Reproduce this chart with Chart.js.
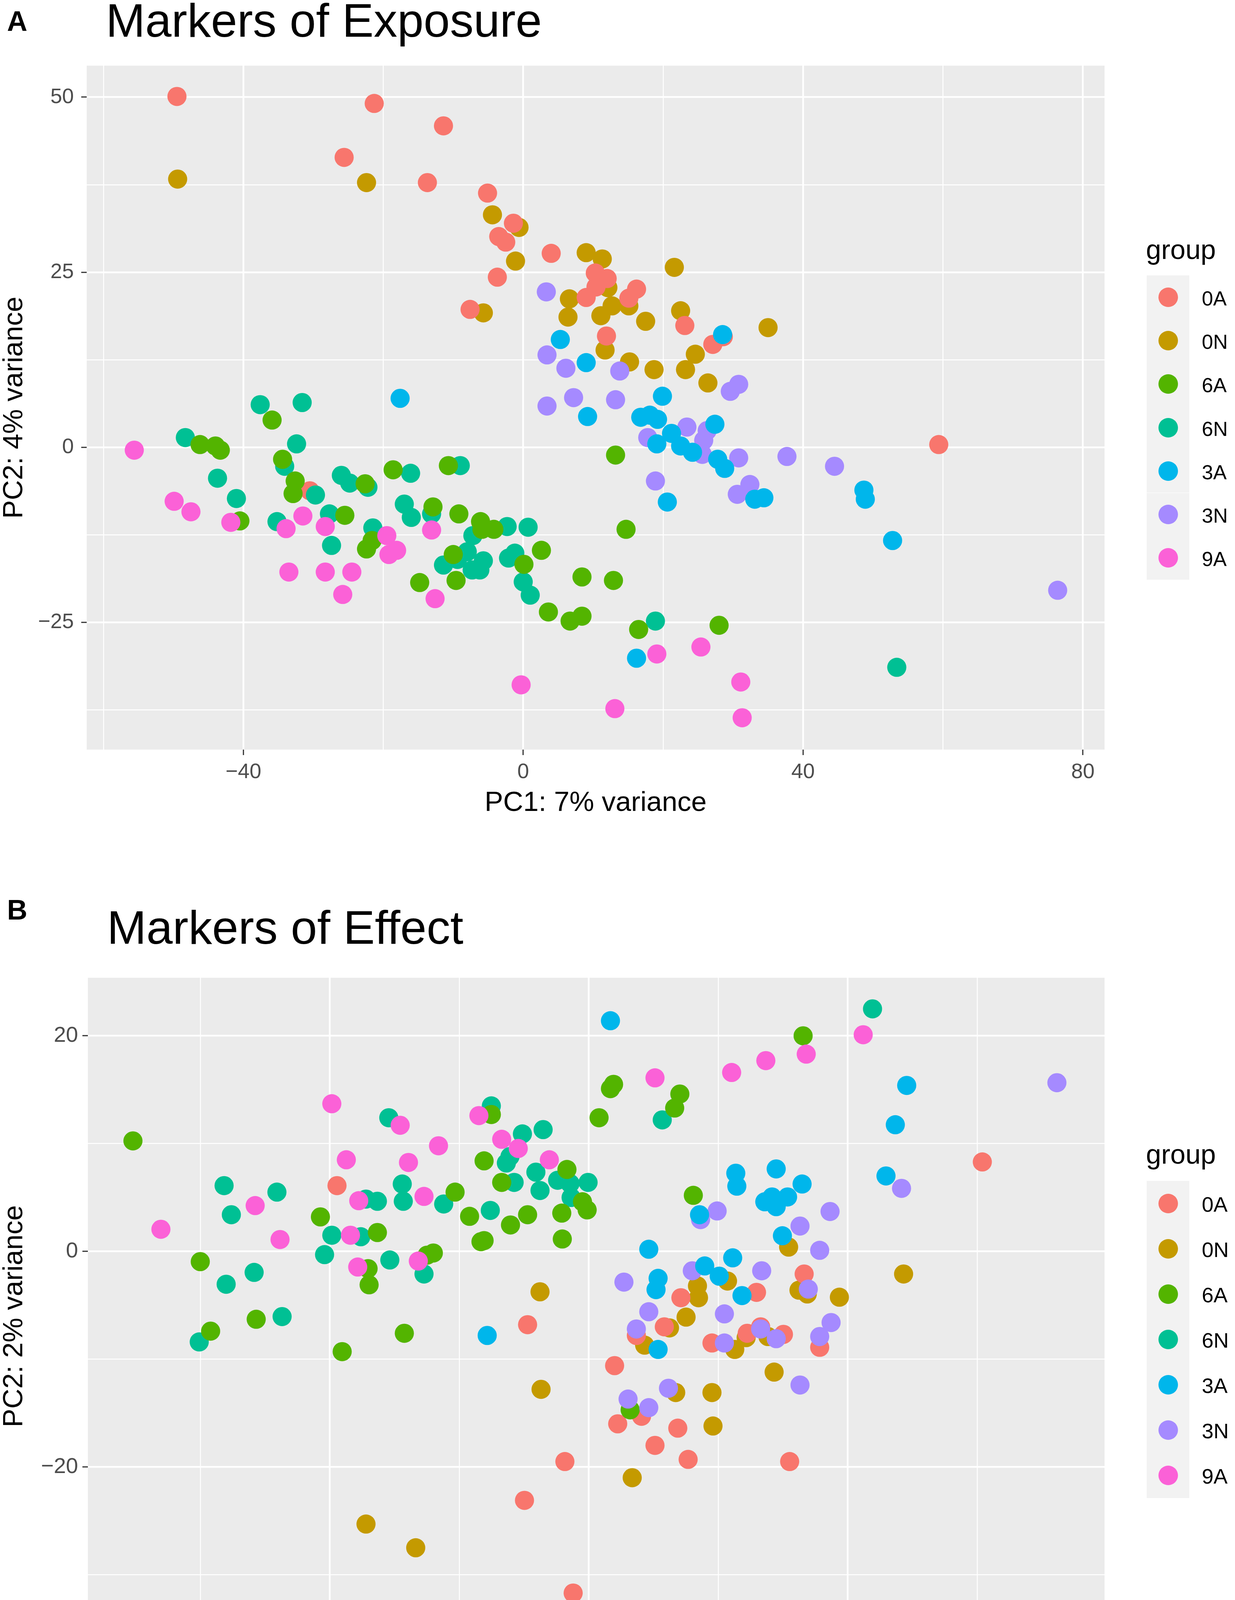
<!DOCTYPE html>
<html><head><meta charset="utf-8">
<script src="https://cdn.jsdelivr.net/npm/chart.js@4.4.0/dist/chart.umd.min.js"></script>
<style>
html,body{margin:0;padding:0;background:#fff;}
body{width:3162px;height:4408px;position:relative;overflow:hidden;font-family:"Liberation Sans",Arial,Helvetica,sans-serif;color:#000;}
.abs{position:absolute;white-space:nowrap;line-height:1;}
canvas{position:absolute;left:0;}
</style></head><body>
<div class="abs" style="left:18px;top:18px;font-size:72px;font-weight:bold;">A</div>
<div class="abs" style="left:271px;top:-8px;font-size:121px;">Markers of Exposure</div>
<canvas id="c1" width="2900" height="2100" style="top:0px;width:2900px;height:2100px"></canvas>
<div class="abs" style="left:18px;top:2293px;font-size:72px;font-weight:bold;">B</div>
<div class="abs" style="left:274px;top:2314px;font-size:121px;">Markers of Effect</div>
<canvas id="c2" width="2900" height="2108" style="top:2300px;width:2900px;height:2108px"></canvas>
<script>
const groups = ['0A','0N','6A','6N','3A','3N','9A'];
const groupColors = ['#F8766D','#C49A00','#53B400','#00C094','#00B6EB','#A58AFF','#FB61D7'];
const drawOrder = ['9A','3A','3N','6A','6N','0A','0N'];

const exp0A = [[-49.5,50.1],[-21.3,49.1],[-11.4,45.9],[-25.6,41.4],[-13.7,37.8],[-5.1,36.3],[-1.4,32.0],[-3.5,30.1],[-2.5,29.3],[-3.7,24.3],[-7.6,19.7],[4.0,27.7],[10.3,24.9],[12.0,24.1],[10.4,22.9],[9.0,21.4],[16.2,22.6],[15.1,21.3],[11.9,15.9],[23.1,17.4],[27.1,14.7],[28.6,15.8],[59.4,0.4],[-30.5,-6.2]];
const exp0N = [[-49.4,38.3],[-22.4,37.8],[-4.4,33.2],[-0.6,31.4],[-1.1,26.6],[-5.7,19.2],[9.0,27.8],[11.3,26.9],[12.1,22.8],[6.6,21.2],[6.4,18.6],[12.7,20.2],[11.1,18.8],[15.1,20.2],[17.5,18.0],[21.6,25.7],[22.5,19.5],[11.7,13.9],[15.2,12.2],[18.7,11.1],[23.2,11.1],[24.6,13.3],[26.4,9.2],[35.0,17.1]];
const exp6A = [[-46.2,0.4],[-44.0,0.2],[-43.3,-0.4],[-35.9,3.9],[-34.4,-1.7],[-32.6,-4.8],[-32.9,-6.6],[-40.5,-10.5],[-25.5,-9.7],[-22.6,-5.2],[-21.6,-13.3],[-22.4,-14.5],[-18.6,-3.2],[-10.7,-2.6],[-12.9,-8.5],[-9.2,-9.5],[-6.1,-10.6],[-5.9,-11.7],[-4.2,-11.7],[-10.0,-15.3],[-9.6,-19.0],[-14.8,-19.3],[0.1,-16.7],[2.6,-14.7],[3.6,-23.5],[6.7,-24.8],[8.4,-24.1],[8.4,-18.5],[12.9,-19.0],[13.2,-1.1],[14.7,-11.7],[16.5,-26.0],[28.0,-25.4]];
const exp6N = [[-48.3,1.4],[-37.6,6.1],[-31.6,6.4],[-32.4,0.5],[-43.7,-4.4],[-41.0,-7.3],[-34.1,-2.7],[-29.7,-6.8],[-35.2,-10.6],[-27.7,-9.5],[-27.4,-14.0],[-26.0,-4.0],[-24.8,-5.1],[-22.2,-5.7],[-21.5,-11.5],[-16.1,-3.7],[-17.0,-8.1],[-16.0,-10.0],[-13.1,-9.5],[-9.0,-2.6],[-7.2,-12.6],[-8.0,-14.9],[-11.4,-16.8],[-7.3,-17.5],[-6.2,-17.5],[-5.7,-16.2],[-9.4,-16.0],[-2.3,-11.3],[0.7,-11.4],[-2.1,-15.8],[-1.2,-15.1],[0.0,-19.2],[1.0,-21.1],[18.9,-24.8],[53.4,-31.4]];
const exp3A = [[-17.6,7.0],[5.3,15.4],[9.0,12.1],[19.9,7.3],[9.2,4.4],[16.8,4.3],[18.1,4.6],[19.2,4.0],[21.2,2.0],[19.1,0.5],[22.5,0.2],[24.2,-0.7],[27.4,3.3],[27.8,-1.7],[28.8,-3.0],[28.5,16.1],[20.6,-7.8],[33.1,-7.4],[34.4,-7.2],[48.7,-6.1],[48.9,-7.4],[52.8,-13.3],[16.2,-30.1]];
const exp3N = [[3.3,22.2],[3.4,13.2],[6.1,11.3],[13.8,10.9],[7.2,7.1],[3.4,5.9],[13.2,6.8],[29.6,8.0],[30.8,9.0],[17.8,1.4],[23.4,2.9],[26.3,2.4],[25.8,1.0],[25.6,-1.0],[30.8,-1.5],[37.7,-1.3],[18.9,-4.8],[32.4,-5.3],[30.6,-6.7],[44.5,-2.7],[76.4,-20.4]];
const exp9A = [[-55.6,-0.4],[-49.9,-7.7],[-47.5,-9.2],[-41.8,-10.7],[-33.9,-11.6],[-31.5,-9.8],[-28.3,-11.3],[-33.5,-17.8],[-28.3,-17.8],[-24.5,-17.8],[-25.8,-21.0],[-19.5,-12.6],[-18.1,-14.7],[-19.2,-15.3],[-13.1,-11.8],[-12.6,-21.6],[-0.3,-33.9],[19.1,-29.5],[25.4,-28.5],[31.1,-33.5],[13.1,-37.3],[31.3,-38.6]];
const expXTicks = [-60,-40,-20,0,20,40,60,80];
const expXLabels = [-40,0,40,80];
const expYTicks = [-37.5,-25,-12.5,0,12.5,25,37.5,50];
const expYLabels = [-25,0,25,50];

const eff0A = [[-24.3,6.1],[-5.9,-6.8],[-2.3,-19.5],[-6.2,-23.1],[-1.5,-31.7],[-22.3,-34.5],[38.0,8.3],[20.8,-2.1],[8.9,-4.3],[16.2,-3.8],[7.3,-7.0],[4.6,-7.8],[11.9,-8.5],[15.3,-7.6],[16.6,-7.0],[18.8,-7.7],[22.3,-8.9],[2.5,-10.6],[5.1,-15.3],[2.8,-16.0],[8.6,-16.4],[6.4,-18.0],[9.6,-19.3],[19.4,-19.5]];
const eff0N = [[-4.7,-3.75],[-4.6,-12.8],[-21.5,-25.3],[-16.7,-27.5],[19.3,0.4],[13.4,-2.75],[10.5,-3.2],[10.6,-4.3],[20.3,-3.6],[21.1,-3.95],[24.2,-4.25],[9.4,-6.1],[7.8,-7.1],[5.4,-8.7],[14.1,-9.1],[15.2,-8.0],[17.3,-7.9],[17.9,-11.2],[8.4,-13.1],[11.9,-13.1],[12.0,-16.2],[4.2,-21.0],[30.4,-2.1]];
const eff6A = [[-44.0,10.25],[-37.5,-0.95],[-36.5,-7.4],[-32.1,-6.3],[-25.9,3.2],[-20.4,1.75],[-23.8,-9.3],[-21.3,-1.6],[-21.2,-3.1],[-17.8,-7.6],[-15.6,-0.35],[-15.0,-0.15],[-12.9,5.5],[-11.5,3.25],[-10.1,1.0],[-10.4,0.9],[-9.4,12.7],[-10.1,8.4],[-8.4,6.4],[-7.55,2.45],[-5.9,3.4],[-2.55,1.15],[-2.6,3.55],[-2.1,7.6],[-0.6,4.6],[-0.15,3.85],[20.7,20.0],[2.4,15.5],[2.1,15.1],[8.8,14.6],[8.3,13.3],[1.0,12.4],[10.1,5.2],[4.0,-14.7]];
const eff6N = [[-35.2,6.1],[-34.5,3.4],[-30.1,5.5],[-35.0,-3.05],[-32.3,-1.95],[-29.6,-6.05],[-37.6,-8.4],[-25.5,-0.3],[-24.8,1.5],[-22.0,1.36],[-21.5,4.85],[-20.4,4.65],[-19.3,12.4],[-18.0,6.25],[-17.9,4.65],[-19.2,-0.8],[-15.9,-2.1],[-14.0,4.4],[-9.5,3.8],[-9.4,13.5],[-6.4,10.9],[-4.4,11.3],[-7.95,8.2],[-7.6,8.8],[-7.2,6.4],[-5.1,7.35],[-4.7,5.65],[-3.0,6.6],[-1.8,6.3],[-1.7,5.0],[-0.06,6.4],[27.4,22.5],[7.1,12.2]];
const eff3A = [[-9.8,-7.8],[2.1,21.4],[30.7,15.4],[29.6,11.75],[28.7,7.0],[14.2,7.25],[14.3,6.05],[18.1,7.65],[20.6,6.25],[17.0,4.6],[17.7,5.05],[18.1,4.15],[19.2,5.05],[10.7,3.4],[18.7,1.45],[5.8,0.2],[13.9,-0.6],[11.2,-1.35],[12.6,-2.3],[6.7,-2.5],[6.5,-3.55],[14.8,-4.1],[6.7,-9.1]];
const eff3N = [[45.2,15.65],[30.2,5.85],[23.3,3.7],[10.8,2.95],[12.4,3.75],[20.4,2.35],[22.3,0.1],[10.0,-1.8],[16.7,-1.8],[3.4,-2.85],[21.2,-3.5],[5.8,-5.6],[13.1,-5.8],[4.6,-7.2],[13.1,-8.5],[16.6,-7.2],[18.1,-8.1],[23.4,-6.6],[22.3,-7.9],[20.4,-12.4],[7.7,-12.7],[3.8,-13.7],[5.8,-14.5]];
const eff9A = [[-41.3,2.05],[-32.2,4.25],[-29.8,1.1],[-24.8,13.7],[-23.4,8.5],[-22.2,4.7],[-23.0,1.5],[-22.3,-1.45],[-18.2,11.7],[-17.4,8.25],[-16.45,-0.9],[-15.9,5.1],[-14.5,9.8],[-10.6,12.6],[-8.4,10.4],[-6.8,9.55],[-3.8,8.5],[26.5,20.1],[21.0,18.3],[17.1,17.7],[13.8,16.6],[6.4,16.1]];
const effXTicks = [-37.5,-25,-12.5,0,12.5,25,37.5];
const effXLabels = [-25,0,25];
const effYTicks = [-30,-20,-10,0,10,20];
const effYLabels = [-20,0,20];

const expData = {'0A':exp0A,'0N':exp0N,'6A':exp6A,'6N':exp6N,'3A':exp3A,'3N':exp3N,'9A':exp9A};
const effData = {'0A':eff0A,'0N':eff0N,'6A':eff6A,'6N':eff6N,'3A':eff3A,'3N':eff3N,'9A':eff9A};

const FONT = '"Liberation Sans", Arial, Helvetica, sans-serif';
Chart.defaults.font.family = FONT;

const panelBg = {
  id: 'panelBg',
  beforeDraw(chart) {
    const {ctx, chartArea: a} = chart;
    ctx.save();
    ctx.fillStyle = '#EBEBEB';
    ctx.fillRect(a.left, a.top, a.right - a.left, a.bottom - a.top);
    ctx.restore();
  }
};

function fmt(v) { return v < 0 ? '\u2212' + Math.abs(v) : String(v); }

function axis(o) {
  const isMajor = v => o.labels.includes(v);
  return {
    type: 'linear', min: o.min, max: o.max,
    afterBuildTicks: s => { s.ticks = o.ticks.map(v => ({value: v})); },
    afterFit: s => { if (o.width != null) s.width = o.width; if (o.height != null) s.height = o.height; },
    ticks: {
      autoSkip: false, maxRotation: 0, minRotation: 0, padding: o.tickPad,
      color: '#4D4D4D', font: {family: FONT, size: o.tickSize, lineHeight: 1.2},
      callback: v => isMajor(v) ? fmt(v) : ''
    },
    grid: {
      color: '#FFFFFF',
      lineWidth: c => (c.tick && isMajor(c.tick.value)) ? 4.5 : 2.4,
      drawTicks: true, tickLength: 14, tickWidth: 3,
      tickColor: c => (c.tick && isMajor(c.tick.value)) ? '#333333' : 'rgba(0,0,0,0)'
    },
    border: {display: false},
    title: {display: true, text: o.title, color: '#000', font: {family: FONT, size: 71, lineHeight: 1.0}, padding: o.titlePad}
  };
}

function makeChart(id, data, c) {
  const datasets = drawOrder.map(g => {
    const col = groupColors[groups.indexOf(g)];
    return {
      label: g,
      data: data[g].map(p => ({x: p[0], y: p[1]})),
      backgroundColor: col, borderColor: col,
      pointRadius: 24.5, pointHoverRadius: 24.5, pointBorderWidth: 0, borderWidth: 0, showLine: false
    };
  });
  return new Chart(document.getElementById(id), {
    type: 'scatter',
    data: {datasets},
    plugins: [panelBg],
    options: {
      responsive: false, animation: false, devicePixelRatio: 1,
      layout: {padding: {top: c.padTop, right: 72, left: 0, bottom: 0}},
      plugins: {legend: {display: false}, tooltip: {enabled: false}},
      scales: {x: axis(c.x), y: axis(c.y)}
    }
  });
}

makeChart('c1', expData, {
  padTop: 168,
  x: {min: -62.4, max: 83.1, ticks: expXTicks, labels: expXLabels, height: 181, tickPad: 12, tickSize: 54, title: 'PC1: 7% variance', titlePad: {top: 0, bottom: 8}},
  y: {min: -43.15, max: 54.5, ticks: expYTicks, labels: expYLabels, width: 222, tickPad: 19, tickSize: 54, title: 'PC2: 4% variance', titlePad: {top: 2, bottom: 0}}
});
makeChart('c2', effData, {
  padTop: 203,
  x: {min: -48.35, max: 49.8, ticks: effXTicks, labels: effXLabels, height: 172, tickPad: 14, tickSize: 56, title: 'PC1: 6% variance', titlePad: {top: 0, bottom: 2}},
  y: {min: -37.42, max: 25.39, ticks: effYTicks, labels: effYLabels, width: 225, tickPad: 11, tickSize: 56, title: 'PC2: 2% variance', titlePad: {top: 2, bottom: 0}}
});

function legend(titleBaseline, keysTop, keyH, labelSize) {
  const add = (css, text) => { const d = document.createElement('div'); d.className = 'abs'; d.style.cssText += css; if (text) d.textContent = text; document.body.appendChild(d); };
  add(`left:2934px;top:${titleBaseline - 0.8465 * 70}px;font-size:70px;`, 'group');
  groups.forEach((g, i) => {
    const top = keysTop + i * keyH;
    add(`left:2936px;top:${top}px;width:109px;height:${keyH}px;background:#F2F2F2;`);
    add(`left:${2991 - 25}px;top:${top + keyH / 2 - 25}px;width:50px;height:50px;border-radius:50%;background:${groupColors[i]};`);
    add(`left:3077px;top:${top + keyH / 2 + 21 - 0.8465 * labelSize}px;font-size:${labelSize}px;`, g);
  });
}
legend(663, 705, 111.3, 52);
legend(2979, 3023, 116, 54);
</script>
</body></html>
